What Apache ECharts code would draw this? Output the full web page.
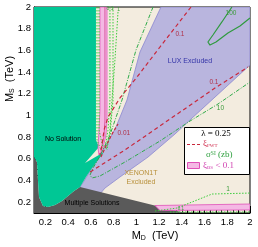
<!DOCTYPE html>
<html><head><meta charset="utf-8">
<script src="https://cdn.jsdelivr.net/npm/echarts@6/dist/echarts.min.js"></script>
<style>html,body{margin:0;padding:0;background:#fff}#c{width:258px;height:247px}</style>
</head><body><div id="c"></div>
<script>
// ---- tick labels ----
const xTicks = [0.2,0.4,0.6,0.8,1,1.2,1.4,1.6,1.8,2];
const yTicks = [0.2,0.4,0.6,0.8,1,1.2,1.4,1.6,1.8,2];
// ---- regions (M_D, M_S in TeV) ----
const grayRegion = [[0.1,0.1],[0.1,0.616],[0.126,0.57],[0.135,0.404],[0.144,0.247],[0.179,0.164],[0.223,0.155],[0.285,0.173],[0.346,0.21],[0.399,0.257],[0.452,0.303],[0.505,0.34],[1.428,0.1]];
const noSolution = [[0.1,2],[0.645,2],[0.645,0.773],[0.672,0.708],[0.549,0.561],[0.716,0.662],[0.663,0.589],[0.61,0.515],[0.557,0.432],[0.505,0.34],[0.452,0.303],[0.399,0.257],[0.346,0.21],[0.285,0.173],[0.223,0.155],[0.179,0.164],[0.144,0.247],[0.135,0.404],[0.126,0.57],[0.1,0.616]];
const luxExcl = [[1.217,2],[2,2],[2,1.465],[1.472,0.958],[1.34,0.828],[1.103,0.616],[0.856,0.432],[0.724,0.33],[0.68,0.275],[0.487,0.312],[0.54,0.395],[0.61,0.515],[0.68,0.635],[0.751,0.755],[0.821,0.893],[0.918,1.142],[1.032,1.585]];
const bsStrip = [[0.68,2],[0.742,2],[0.742,0.958],[0.733,0.819],[0.707,0.699],[0.672,0.635],[0.663,0.699],[0.672,0.865],[0.68,1.05]];
const bsBand = [[1.164,0.169],[2,0.183],[2,0.128],[1.208,0.123]];
const bsCore = [[0.724,2],[0.724,0.95],[0.715,0.8],[0.69,0.68]];
// ---- xi_WT contours ----
const xiA = [[1.481,2],[1.208,1.631],[1.006,1.354],[0.856,1.161],[0.751,0.985],[0.716,0.865],[0.698,0.727],[0.68,0.635]];
const xiB = [[0.593,0.478],[0.61,0.478],[0.9,0.681],[1.182,0.884],[1.692,1.253],[1.982,1.446]];
const xiC = [[0.689,0.616],[0.733,0.718],[0.786,0.828],[0.839,0.921]];
// ---- sigma_SI contours (zb) ----
const sig100 = [[1.841,2],[1.753,1.862],[1.674,1.742],[1.63,1.677],[1.648,1.649],[1.701,1.677],[1.806,1.76],[1.912,1.825],[2,1.899]];
const sig10 = [[1.147,2],[0.997,1.603],[0.874,1.142],[0.768,0.819],[0.68,0.625],[0.619,0.515],[0.593,0.45],[0.61,0.423],[0.68,0.441],[0.9,0.57],[1.208,0.764],[1.472,0.948],[1.718,1.105],[2,1.308]];
const sig1Bottom = [[1.164,0.118],[1.358,0.146],[1.666,0.275],[2,0.284]];
const sig01Bottom = [[1.296,0.109],[2,0.109]];
const sigStripL1 = [[0.654,2],[0.654,0.773],[0.689,0.681]];
const sigStripL2 = [[0.672,2],[0.672,0.865],[0.707,0.699]];
const sigStripR1 = [[0.768,2],[0.768,1.142],[0.751,0.865],[0.724,0.699]];
const sigStripR2 = [[0.795,2],[0.795,1.142],[0.768,0.819],[0.733,0.681]];
const sigStripR3 = [[0.839,1.954],[0.812,1.511],[0.786,1.142],[0.768,0.865],[0.742,0.681]];
// ---- region / contour labels ----
const regionLabels = [
  {t:'No Solution', p:[0.355,0.782], c:'#000'},
  {t:'LUX Excluded', p:[1.472,1.502], c:'#3434a8'},
  {t:'XENON1T', p:[1.041,0.469], c:'#b8903a'},
  {t:'Excluded', p:[1.041,0.386], c:'#b8903a'},
  {t:'Multiple Solutions', p:[0.61,0.192], c:'#000'}
];
const contourLabels = [
  {t:'0.1', p:[1.384,1.751], c:'#b03048', s:6.5},
  {t:'0.1', p:[1.683,1.308], c:'#b03048', s:6.5},
  {t:'0.01', p:[0.89,0.838], c:'#b03048', s:6.5},
  {t:'100', p:[1.833,1.945], c:'#3a9a3a', s:6.5},
  {t:'10', p:[1.74,1.07], c:'#3a9a3a', s:6.5},
  {t:'1', p:[1.806,0.318], c:'#3a9a3a', s:6.5},
  {t:'0.1', p:[0.768,1.982], c:'#3aa03a', s:5},
  {t:'1', p:[0.845,1.972], c:'#3aa03a', s:5},
  {t:'0.1', p:[1.393,0.14], c:'#3aa03a', s:4.5}
];

const FONT = 'Liberation Sans, Arial, sans-serif';
const SERIF = 'Liberation Serif, Times New Roman, serif';
const minorTicks = [];
for (let k = 3; k <= 39; k++) { if (k % 4 !== 0) minorTicks.push(+(k*0.05).toFixed(2)); }

function poly(points, fill, z, stroke) {
  return {type:'custom', coordinateSystem:'cartesian2d', z:z, silent:true, clip:true, animation:false,
    data:[[1,1]],
    renderItem:(params, api)=>({type:'polygon', shape:{points: points.map(p=>api.coord(p))},
      style:{fill:fill, stroke: stroke||null, lineWidth: 0.8}})};
}
function line(data, color, width, dash, z) {
  return {type:'line', data:data, symbol:'none', showSymbol:false, silent:true, animation:false, z:z||5,
    lineStyle:{color:color, width:width, type:dash}};
}
function texts(list, size, z) {
  return {type:'custom', coordinateSystem:'cartesian2d', z:z||8, silent:true, animation:false,
    data: list.map((d,i)=>[d.p[0], d.p[1], i]),
    renderItem:(params, api)=>{ const d = list[params.dataIndex]; const pt = api.coord(d.p);
      return {type:'text', x:pt[0], y:pt[1], style:{text:d.t, fill:d.c, font: (d.s||size)+'px '+FONT, align:'center', verticalAlign:'middle'}}; }};
}

const chart = echarts.init(document.getElementById('c'), null, {renderer:'canvas'});
const baseAxis = {type:'value', min:0.1, max:2};
chart.setOption({
  animation:false,
  grid:{left:34, right:8, top:7, bottom:34, show:true, backgroundColor:'#f3ecdf', borderColor:'#000', borderWidth:1, z:0},
  xAxis:[
    Object.assign({}, baseAxis, {position:'bottom', splitLine:{show:false},
      axisLine:{lineStyle:{color:'#000', width:1}},
      axisTick:{inside:true, length:7, customValues:xTicks, lineStyle:{color:'#000'}},
      axisLabel:{customValues:xTicks, fontSize:9.5, fontFamily:FONT, color:'#000', margin:4}}),
    Object.assign({}, baseAxis, {position:'bottom', splitLine:{show:false}, axisLine:{show:false},
      axisTick:{inside:true, length:4, customValues:minorTicks, lineStyle:{color:'#000'}},
      axisLabel:{show:false}})
  ],
  yAxis:[
    Object.assign({}, baseAxis, {position:'left', splitLine:{show:false},
      axisLine:{lineStyle:{color:'#000', width:1}},
      axisTick:{inside:true, length:7, customValues:yTicks, lineStyle:{color:'#000'}},
      axisLabel:{customValues:yTicks, fontSize:9.5, fontFamily:FONT, color:'#000', margin:3}}),
    Object.assign({}, baseAxis, {position:'left', splitLine:{show:false}, axisLine:{show:false},
      axisTick:{inside:true, length:4, customValues:minorTicks, lineStyle:{color:'#000'}},
      axisLabel:{show:false}})
  ],
  series:[
    poly(luxExcl, '#b9b5de', 1, '#8a86d0'),
    poly(grayRegion, '#5a5a5a', 2),
    poly(noSolution, '#00c795', 3),
    poly(bsStrip, '#f4b8e4', 4, '#e050b8'),
    poly(bsBand, '#f4b8e4', 4, '#e050b8'),
    line(bsCore, '#d0408c', 0.8, 'solid'),
    line(sigStripL1, '#3ccc3c', 1, [1.5,1.5]),
    line(sigStripL2, '#3ccc3c', 1, [1.5,1.5]),
    line(sigStripR1, '#3ccc3c', 1, [1.5,1.5]),
    line(sigStripR2, '#3ccc3c', 1, [1.5,1.5]),
    line(sigStripR3, '#3ccc3c', 1, [1.5,1.5]),
    line(sig1Bottom, '#3ccc3c', 1, [1.5,1.5]),
    line(sig01Bottom, '#3ccc3c', 1, [1.5,1.5]),
    line(sig10, '#2faa4a', 1, [4,1.5,1,1.5]),
    line(sig100, '#2f9a3f', 1.2, 'solid'),
    line(xiA, '#c8283c', 1.2, [4,3]),
    line(xiB, '#c8283c', 1.2, [4,3]),
    line(xiC, '#c8283c', 1.2, [3,2]),
    texts(regionLabels, 7),
    texts(contourLabels, 6.5)
  ],
  graphic:[
    {type:'rect', shape:{x:184.5, y:127.5, width:65, height:47}, style:{fill:'#fff', stroke:'#000', lineWidth:1}, z:20},
    {type:'text', x:216, y:134, z:21, style:{text:'λ = 0.25', font:'9px '+SERIF, fill:'#000', align:'center', verticalAlign:'middle'}},
    {type:'line', shape:{x1:187, y1:144.5, x2:200, y2:144.5}, style:{stroke:'#c8283c', lineWidth:1.2, lineDash:[3,2]}, z:21},
    {type:'text', x:203, y:144, z:21, style:{text:'{a|ξ}{b|PWT}', verticalAlign:'middle',
      rich:{a:{fontSize:9, fontFamily:SERIF, fill:'#d03050'}, b:{fontSize:5, fontFamily:SERIF, fill:'#d03050', verticalAlign:'bottom'}}}},
    {type:'text', x:206, y:155, z:21, style:{text:'{a|σ}{b|SI}{a| (zb)}', verticalAlign:'middle',
      rich:{a:{fontSize:9, fontFamily:SERIF, fill:'#2fa03f'}, b:{fontSize:5.5, fontFamily:SERIF, fill:'#2fa03f', verticalAlign:'top'}}}},
    {type:'rect', shape:{x:187.5, y:162.5, width:12, height:6}, style:{fill:'#f4b8e4', stroke:'#e050b8', lineWidth:1}, z:21},
    {type:'text', x:203, y:166, z:21, style:{text:'{a|ξ}{b|BS}{a| < 0.1}', verticalAlign:'middle',
      rich:{a:{fontSize:9, fontFamily:SERIF, fill:'#d040b0'}, b:{fontSize:5, fontFamily:SERIF, fill:'#d040b0', verticalAlign:'bottom'}}}},
    {type:'text', x:155, y:236, z:21, style:{text:'{a|M}{b|D}{a|  (TeV)}', align:'center', verticalAlign:'middle',
      rich:{a:{fontSize:11, fontFamily:FONT, fill:'#000'}, b:{fontSize:7, fontFamily:FONT, fill:'#000', verticalAlign:'bottom'}}}},
    {type:'text', x:10, y:79, rotation:Math.PI/2, z:21, style:{text:'{a|M}{b|S}{a|  (TeV)}', align:'center', verticalAlign:'middle',
      rich:{a:{fontSize:11, fontFamily:FONT, fill:'#000'}, b:{fontSize:7, fontFamily:FONT, fill:'#000', verticalAlign:'bottom'}}}}
  ]
});
</script></body></html>
